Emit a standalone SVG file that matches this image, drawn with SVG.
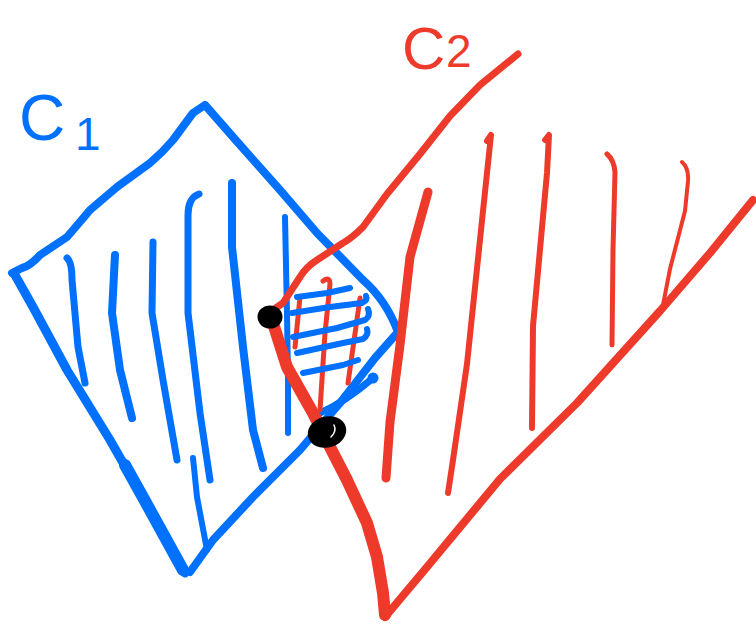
<svg xmlns="http://www.w3.org/2000/svg" width="756" height="628" viewBox="0 0 756 628">
<style>
.b{fill:none;stroke:#0070FF;stroke-linecap:round;stroke-linejoin:round}
.r{fill:none;stroke:#EE3A2A;stroke-linecap:round;stroke-linejoin:round}
.lb{font-family:"Liberation Sans",Arial,sans-serif;fill:#0070FF}
.lr{font-family:"Liberation Sans",Arial,sans-serif;fill:#EE3A2A}
</style>
<rect width="756" height="628" fill="#fff"/>
<g id="c1">
<path class="b" stroke-width="8" d="M 12 273 L 22 268 Q 30 266 40 255 L 67 237 Q 80 222 90 210 L 117 187 L 150 163 Q 163 152 173 140 L 193 113 L 205 105 L 233 137 L 280 190 L 317 233 L 363 280 Q 386 300 398 332 L 375 358 L 340 403 L 300 450 L 253 497 L 213 540 L 190 572"/>
<path class="b" stroke-width="9" d="M 185 573 L 150 510 L 110 440 L 67 370 L 33 307 L 15 275"/>
<path class="b" stroke-width="12" d="M 183 570 L 150 510 L 125 465"/>
<path class="b" stroke-width="7" d="M 320 413 Q 345 402 373 378"/>
<circle cx="373" cy="378" r="5.5" fill="#0070FF"/>
<path class="b" stroke-width="7" d="M 67 258 Q 72 262 72 280 L 78 347 L 85 383"/>
<path class="b" stroke-width="8" d="M 115 255 L 112 313 L 120 370 L 132 418"/>
<path class="b" stroke-width="7" d="M 153 242 L 152 313 L 163 380 L 177 460"/>
<path class="b" stroke-width="7" d="M 199 194 Q 188 198 188 215 L 188 313 L 200 413 L 210 480"/>
<path class="b" stroke-width="8" d="M 232 183 L 232 247 L 243 347 L 253 430 L 263 468"/>
<path class="b" stroke-width="6" d="M 285 217 L 287 313 L 288 380 L 288 433"/>
<path class="b" stroke-width="6" d="M 193 458 L 197 497 L 207 550"/>
</g>
<g id="c2">
<path class="r" stroke-width="7" d="M 518 54 L 480 85 L 450 116 L 420 154 L 387 194 L 363 227 Q 352 238 343 243 L 317 260 Q 306 267 300 277 L 283 303 L 270 312"/>
<path class="r" stroke-width="12" d="M 272 320 L 287 367 L 313 413 L 330 447 L 347 480 L 367 523 L 377 557 L 383 593 L 385 615"/>
<path class="r" stroke-width="8" d="M 385 617 L 427 567 L 500 479 L 577 403 L 660 311 L 710 253 L 753 200"/>
<path class="r" stroke-width="9" d="M 428 192 L 410 257 L 400 345 L 390 422 L 386 478"/>
<path class="r" stroke-width="6" d="M 487 141 L 491 135 L 483 211 L 467 364 L 453 460 L 448 493"/>
<path class="r" stroke-width="6" d="M 545 140 L 549 135 L 547 173 L 533 326 L 532 428"/>
<path class="r" stroke-width="5" d="M 607 154 Q 614 160 615 172 L 613 250 L 612 345"/>
<path class="r" stroke-width="4" d="M 682 162 Q 689 168 688 181 L 685 211 L 670 269 L 663 305"/>
</g>
<g id="intersection">
<path class="r" stroke-width="5" d="M 323 281 Q 330 276 330 284 L 325 333 L 320 410"/>
<path class="r" stroke-width="5" d="M 300 297 L 295 347"/>
<path class="r" stroke-width="5" d="M 360 298 L 348 383"/>
<path class="b" stroke-width="6" d="M 297 297 L 327 293 L 350 288"/>
<path class="b" stroke-width="6" d="M 292 313 L 330 307 L 362 303 Q 368 300 366 296"/>
<path class="b" stroke-width="6" d="M 293 337 L 337 328 L 365 320 Q 371 316 368 309"/>
<path class="b" stroke-width="6" d="M 297 353 L 343 343 L 363 339 Q 369 335 367 329"/>
<path class="b" stroke-width="6" d="M 303 373 L 343 365 L 358 360"/>
</g>
<g id="points">
<ellipse cx="270" cy="317" rx="12.5" ry="11.5" fill="#000"/>
<ellipse cx="327" cy="432" rx="19.5" ry="15.5" transform="rotate(-15 327 432)" fill="#000"/>
<path d="M 334 425 Q 337 431 331 437" fill="none" stroke="#fff" stroke-width="1.5" stroke-linecap="round"/>
</g>
<g id="labels">
<text class="lb" x="19" y="140" font-size="64">C</text>
<text class="lb" x="75" y="150" font-size="46">1</text>
<text class="lr" x="402" y="69" font-size="60">C</text>
<text class="lr" x="446" y="67" font-size="46">2</text>
</g>
</svg>
